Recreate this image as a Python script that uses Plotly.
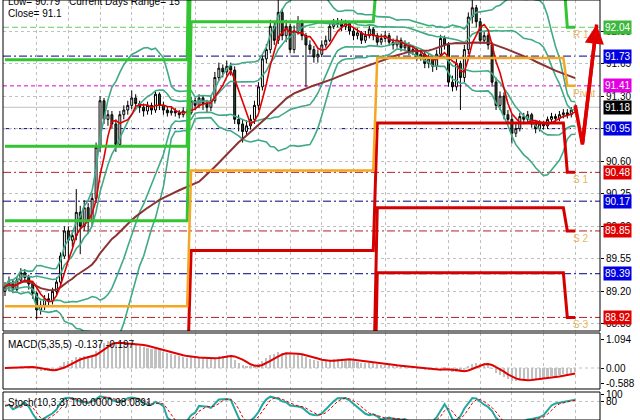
import plotly.graph_objects as go
import pandas as pd

# ---------------- data (30-min bars) ----------------
closes = [
    89.25, 89.30, 89.22, 89.32, 89.40, 89.35, 89.28, 89.18, 89.00, 89.05,
    89.12, 89.10, 89.20, 89.30, 89.58, 89.85, 89.75, 89.80, 90.05, 89.90,
    90.10, 89.95, 90.20, 90.75, 91.25, 91.05, 91.10, 91.00, 90.78, 91.10,
    91.15, 91.20, 91.28, 91.22, 91.18, 91.14, 91.20, 91.15, 91.32, 91.20,
    91.15, 91.12, 91.14, 91.12, 91.10, 91.14, 91.12, 91.25, 91.20, 91.28,
    91.22, 91.18, 91.25, 91.50, 91.60, 91.56, 91.62, 91.58, 91.05, 91.00,
    90.92, 90.98, 91.05, 91.20, 91.40, 91.70, 91.80, 92.05, 91.90, 92.20,
    91.95, 92.05, 91.80, 92.00, 92.10, 91.95, 91.85, 91.80, 91.72, 91.75,
    91.85, 91.90, 92.05, 92.08, 92.10, 92.05, 92.08, 92.00, 91.95, 91.98,
    91.90, 91.95, 92.02, 91.95, 91.88, 91.92, 91.95, 91.88, 91.85, 91.90,
    91.82, 91.85, 91.78, 91.80, 91.72, 91.75, 91.65, 91.70, 91.62, 91.75,
    91.92, 91.85, 91.45, 91.40, 91.65, 91.50, 91.80, 92.15, 92.25, 92.10,
    91.90, 91.95, 91.85, 91.45, 91.20, 91.30, 91.10, 91.05, 90.90, 90.95,
    91.08, 91.05, 91.10, 91.00, 90.95, 91.00, 90.98, 91.05, 91.08, 91.06,
    91.10, 91.12, 91.10, 91.15, 91.18,
]
highs = [
    89.30, 89.36, 89.33, 89.36, 89.45, 89.44, 89.38, 89.30, 89.20, 89.10,
    89.16, 89.18, 89.24, 89.35, 89.62, 89.90, 89.90, 89.86, 90.30, 90.12,
    90.18, 90.15, 90.26, 90.80, 91.30, 91.28, 91.15, 91.14, 91.05, 91.14,
    91.20, 91.25, 91.36, 91.32, 91.25, 91.22, 91.24, 91.23, 91.35, 91.34,
    91.24, 91.19, 91.18, 91.17, 91.15, 91.18, 91.17, 91.29, 91.28, 91.32,
    91.31, 91.26, 91.30, 91.56, 91.66, 91.64, 91.68, 91.66, 91.62, 91.10,
    91.05, 91.04, 91.10, 91.25, 91.45, 91.75, 91.86, 92.12, 92.10, 92.41,
    92.24, 92.12, 92.08, 92.06, 92.16, 92.12, 91.98, 91.90, 91.84, 91.80,
    91.90, 91.95, 92.10, 92.13, 92.14, 92.13, 92.12, 92.10, 92.04, 92.03,
    92.00, 92.00, 92.06, 92.04, 91.98, 91.97, 92.00, 91.98, 91.92, 91.95,
    91.93, 91.90, 91.88, 91.85, 91.83, 91.80, 91.78, 91.75, 91.73, 91.80,
    91.96, 91.95, 91.88, 91.52, 91.70, 91.68, 91.85, 92.20, 92.34, 92.28,
    92.14, 92.00, 91.98, 91.88, 91.50, 91.35, 91.34, 91.15, 91.10, 91.00,
    91.12, 91.12, 91.14, 91.12, 91.04, 91.04, 91.03, 91.08, 91.12, 91.11,
    91.14, 91.16, 91.16, 91.18, 91.21,
]
lows = [
    89.15, 89.20, 89.18, 89.20, 89.28, 89.30, 89.22, 89.12, 88.90, 88.95,
    89.00, 89.04, 89.06, 89.15, 89.25, 89.55, 89.55, 89.68, 89.75, 89.60,
    89.85, 89.82, 89.90, 90.15, 90.70, 91.00, 90.98, 90.95, 90.70, 90.75,
    91.05, 91.10, 91.16, 91.16, 91.12, 91.08, 91.10, 91.10, 91.12, 91.15,
    91.10, 91.08, 91.09, 91.08, 91.06, 91.07, 91.08, 91.10, 91.15, 91.17,
    91.15, 91.12, 91.14, 91.22, 91.46, 91.50, 91.52, 91.52, 91.00, 90.92,
    90.80, 90.88, 90.94, 91.00, 91.15, 91.36, 91.65, 91.76, 91.85, 91.86,
    91.90, 91.88, 91.76, 91.76, 91.96, 91.90, 91.40, 91.75, 91.66, 91.66,
    91.72, 91.82, 91.88, 92.02, 92.04, 92.00, 92.01, 91.96, 91.90, 91.91,
    91.86, 91.87, 91.92, 91.90, 91.84, 91.85, 91.88, 91.84, 91.80, 91.82,
    91.78, 91.78, 91.74, 91.74, 91.68, 91.68, 91.60, 91.60, 91.56, 91.58,
    91.72, 91.80, 91.40, 91.35, 91.36, 91.15, 91.45, 91.75, 92.08, 92.04,
    91.86, 91.86, 91.80, 91.40, 91.15, 91.15, 91.05, 91.00, 90.79, 90.86,
    90.92, 91.00, 91.02, 90.96, 90.90, 90.92, 90.94, 90.95, 91.02, 91.02,
    91.03, 91.06, 91.06, 91.07, 91.12,
]
first_open = 89.20
opens = [first_open] + closes[:-1]
bars = list(range(len(closes)))

# daily classic pivots (one value per day)
day_start = [0, 47, 94, 142]
piv_R3 = [91.69, 94.56, 94.23, 93.60]
piv_R2 = [90.76, 92.96, 93.32, 92.97]
piv_R1 = [89.96, 92.10, 92.62, 92.04]
piv_PP = [89.04, 90.50, 91.71, 91.41]
piv_S1 = [88.24, 89.64, 91.01, 90.48]
piv_S2 = [87.32, 88.04, 90.10, 89.85]
piv_S3 = [86.52, 87.18, 89.40, 88.92]

# today's levels drawn across the whole chart
mid_levels = [91.73, 90.95, 90.17, 89.39]
sup_levels = [90.48, 89.85, 88.92]
pivot_today = 91.41
r1_today = 92.04
bid_price = 91.18

level_labels = ["R 1", "Pivot", "S 1", "S 2", "S 3"]
level_values = [92.04, 91.41, 90.48, 89.85, 88.92]

box_levels = [92.04, 91.73, 91.41, 91.18, 90.95, 90.48, 90.17, 89.85, 89.39, 88.92]
box_colors = ["#3cb83c", "#0000e0", "#e000e0", "#000000", "#0000e0",
              "#e00000", "#0000e0", "#e00000", "#0000e0", "#e00000"]

price_ticks = [92.00, 91.65, 91.30, 90.95, 90.60, 90.25, 89.90, 89.55, 89.20, 88.85]
macd_ticks = [1.094, 0.0, -0.588]
macd_ticktext = ["1.094", "0.00", "-0.588"]
stoch_ticks = [100, 80]
grid_bars = list(range(8, 151, 8))

arrow_x = [144.0, 145.8, 149.4]
arrow_y = [91.20, 90.78, 92.07]

# ---------------- indicators computed from the bars ----------------
c = pd.Series(closes)
h = pd.Series(highs)
l = pd.Series(lows)

ma_fast = c.rolling(5, min_periods=1).mean()
ma_slow = c.rolling(50, min_periods=1).mean()
bb_mid = c.rolling(20, min_periods=1).mean()
bb_sd = c.rolling(20, min_periods=1).std(ddof=0)

ema_f = c.ewm(span=5, adjust=False).mean()
ema_s = c.ewm(span=35, adjust=False).mean()
macd = ema_f - ema_s
macd_sig = macd.rolling(5, min_periods=1).mean()

ll = l.rolling(10, min_periods=1).min()
hh = h.rolling(10, min_periods=1).max()
num = (c - ll).rolling(3, min_periods=1).sum()
den = (hh - ll).rolling(3, min_periods=1).sum()
stoch_k = 100 * num / den
stoch_d = stoch_k.rolling(3, min_periods=1).mean()

def per_bar(levels):
    out = []
    for i in bars:
        d = max(k for k in range(len(day_start)) if day_start[k] <= i)
        out.append(levels[d])
    return out

# ---------------- layout geometry ----------------
W, H = 640, 420
def dom(top_px, bot_px):
    return [1 - bot_px / H, 1 - top_px / H]
main_dom = dom(0, 331)
macd_dom = dom(333, 389)
stoch_dom = dom(392, 420)
xr = [-0.505, 150.25]
main_range = [88.774, 92.3333]
macd_range = [-0.82, 1.367]
stoch_range = [23, 109]

FONT = "Liberation Sans"
GRID = "#c0c0c0"

fig = go.Figure()

fig.add_trace(go.Candlestick(
    x=bars, open=opens, high=highs, low=lows, close=closes,
    increasing=dict(line=dict(color="black", width=1), fillcolor="white"),
    decreasing=dict(line=dict(color="black", width=1), fillcolor="#284f28"),
    whiskerwidth=0, xaxis="x", yaxis="y", hoverinfo="skip"))

BB = "#3faa86"
for band in [bb_mid + 2 * bb_sd, bb_mid - 2 * bb_sd, bb_mid + bb_sd, bb_mid - bb_sd]:
    fig.add_trace(go.Scatter(x=bars, y=band, mode="lines",
                             line=dict(color=BB, width=1.6), xaxis="x", yaxis="y"))
fig.add_trace(go.Scatter(x=bars, y=ma_slow, mode="lines",
                         line=dict(color="#8b3333", width=2), xaxis="x", yaxis="y"))
fig.add_trace(go.Scatter(x=bars, y=ma_fast, mode="lines",
                         line=dict(color="#e00000", width=1.6), xaxis="x", yaxis="y"))

for lv, col in [(piv_R3, "#33c433"), (piv_R2, "#33c433"), (piv_R1, "#33c433"),
                (piv_S1, "#d40000"), (piv_S2, "#d40000"), (piv_S3, "#d40000")]:
    fig.add_trace(go.Scatter(x=bars, y=per_bar(lv), mode="lines",
                             line=dict(color=col, width=3), xaxis="x", yaxis="y"))
fig.add_trace(go.Scatter(x=bars, y=per_bar(piv_PP), mode="lines",
                         line=dict(color="#f5a623", width=2.5), xaxis="x", yaxis="y"))

# red arrow
fig.add_trace(go.Scatter(x=arrow_x, y=arrow_y, mode="lines",
                         line=dict(color="#e00000", width=3.5), xaxis="x", yaxis="y"))

# MACD
fig.add_trace(go.Bar(x=bars, y=macd, marker=dict(color="#c0c0c0", line=dict(width=0)),
                     width=0.55, xaxis="x2", yaxis="y2"))
fig.add_trace(go.Scatter(x=bars, y=macd_sig, mode="lines",
                         line=dict(color="#e00000", width=2), xaxis="x2", yaxis="y2"))

# Stochastic
fig.add_trace(go.Scatter(x=bars, y=stoch_k, mode="lines",
                         line=dict(color="#20a8a0", width=2), xaxis="x3", yaxis="y3"))
fig.add_trace(go.Scatter(x=bars, y=stoch_d, mode="lines",
                         line=dict(color="#e00000", width=1, dash="3px,2px"),
                         xaxis="x3", yaxis="y3"))

shapes = []
def hline(y, color, dash, width=1, yref="y"):
    shapes.append(dict(type="line", xref="paper", x0=0, x1=1, yref=yref, y0=y, y1=y,
                       line=dict(color=color, width=width, dash=dash), layer="below"))
hline(bid_price, "#c0c0c0", "solid")
hline(r1_today, "#66cc66", "6px,3px")
hline(pivot_today, "#e000e0", "4px,3px")
for v in mid_levels:
    hline(v, "#000080", "8px,3px,2px,3px")
for v in sup_levels:
    hline(v, "#b02020", "8px,3px,2px,3px")
hline(0, GRID, "3px,3px", yref="y2")
hline(80, GRID, "3px,3px", yref="y3")

for d in [main_dom, macd_dom, stoch_dom]:
    shapes.append(dict(type="rect", xref="paper", yref="paper", x0=0, x1=1,
                       y0=d[0], y1=d[1], line=dict(color="black", width=1),
                       fillcolor="rgba(0,0,0,0)", layer="above"))

annotations = []
def ptext(text, xpx, ypx, size=10):
    annotations.append(dict(text=text, xref="paper", yref="paper",
                            x=(xpx - 3) / 597, y=1 - ypx / H, xanchor="left",
                            yanchor="middle", showarrow=False,
                            font=dict(family=FONT, size=size, color="black")))
ptext("Low= 90.79", 6, 2)
ptext("Current Days Range= 15", 67, 2)
ptext("Close= 91.1", 6, 14)
ptext("MACD(5,35,5) -0.137 -0.197", 6, 344)
ptext("Stoch(10,3,3) 100.0000 98.0891", 6, 402)

for txt, v in zip(level_labels, level_values):
    annotations.append(dict(text=txt, x=143.0, y=v, xref="x", yref="y",
                            xanchor="left", yanchor="top", showarrow=False,
                            font=dict(family=FONT, size=10, color="#e6b85c")))

for v, col in zip(box_levels, box_colors):
    annotations.append(dict(text=f"{v:.2f}", x=1, y=v, xref="paper", yref="y",
                            xanchor="left", yanchor="middle", xshift=3,
                            showarrow=False, bgcolor=col, borderpad=1,
                            font=dict(family=FONT, size=10, color="white")))

annotations.append(dict(x=arrow_x[2], y=arrow_y[2], ax=arrow_x[1], ay=arrow_y[1],
                        xref="x", yref="y", axref="x", ayref="y", text="",
                        showarrow=True, arrowhead=2, arrowsize=1.1, arrowwidth=3.5,
                        arrowcolor="#e00000"))

xcommon = dict(range=xr, showticklabels=False, ticks="", showgrid=True,
               gridcolor=GRID, griddash="3px,3px", gridwidth=1,
               tickmode="array", tickvals=grid_bars, zeroline=False,
               showline=False, automargin=False, rangeslider=dict(visible=False))
ycommon = dict(side="right", ticks="outside", ticklen=3, tickcolor="black",
               tickfont=dict(family=FONT, size=10, color="black"),
               zeroline=False, showline=False, tickmode="array", automargin=False)

fig.update_layout(
    width=W, height=H, margin=dict(l=3, r=40, t=0, b=0, autoexpand=False),
    paper_bgcolor="white", plot_bgcolor="white", showlegend=False,
    bargap=0, hovermode=False,
    xaxis=dict(**xcommon, anchor="y"),
    xaxis2=dict(**xcommon, anchor="y2", matches="x"),
    xaxis3=dict(**xcommon, anchor="y3", matches="x"),
    yaxis=dict(**ycommon, domain=main_dom, range=main_range, anchor="x",
               tickvals=price_ticks, ticktext=[f"{t:.2f}" for t in price_ticks],
               showgrid=True, gridcolor=GRID, griddash="3px,3px"),
    yaxis2=dict(**ycommon, domain=macd_dom, range=macd_range, anchor="x2",
                tickvals=macd_ticks, ticktext=macd_ticktext, showgrid=False),
    yaxis3=dict(**ycommon, domain=stoch_dom, range=stoch_range, anchor="x3",
                tickvals=stoch_ticks, ticktext=[str(t) for t in stoch_ticks],
                showgrid=False),
    shapes=shapes, annotations=annotations,
)

fig.write_html("out.html", config={"displayModeBar": False},
               post_script="document.body.style.margin='0';document.body.style.overflow='hidden';")
